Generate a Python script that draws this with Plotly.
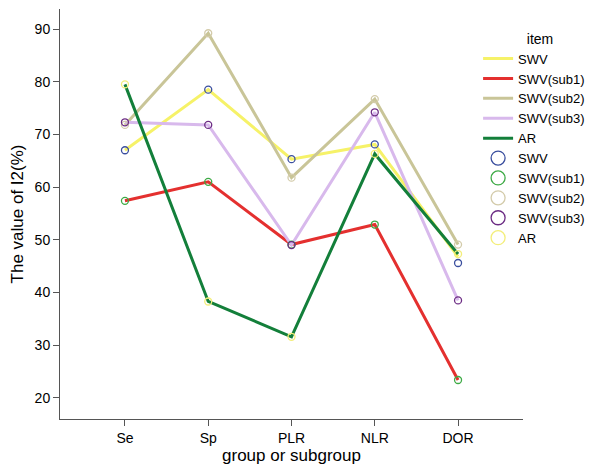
import plotly.graph_objects as go

categories = ["Se", "Sp", "PLR", "NLR", "DOR"]
series_names = ["SWV", "SWV(sub1)", "SWV(sub2)", "SWV(sub3)", "AR"]

# line values
swv_line = [67.0, 78.5, 65.3, 68.1, 46.8]
sub1_line = [57.4, 61.0, 49.1, 52.9, 23.4]
sub2_line = [71.8, 89.2, 61.8, 76.7, 49.1]
sub3_line = [72.3, 71.8, 49.0, 74.2, 38.5]
ar_line = [79.5, 38.3, 31.6, 66.3, 47.3]

# marker values
swv_pts = [67.0, 78.5, 65.3, 68.1, 45.6]
sub1_pts = [57.4, 61.0, 49.1, 52.9, 23.4]
sub2_pts = [71.8, 89.2, 61.8, 76.7, 49.1]
sub3_pts = [72.3, 71.8, 49.0, 74.2, 38.5]
ar_pts = [79.5, 38.3, 31.6, 66.3, 47.3]

line_vals = [swv_line, sub1_line, sub2_line, sub3_line, ar_line]
pt_vals = [swv_pts, sub1_pts, sub2_pts, sub3_pts, ar_pts]

line_colors = ["#F6F268", "#E4302F", "#C9C598", "#D8B9EC", "#137F3A"]
marker_colors = ["#3A4E9E", "#3DAA45", "#D3CBAA", "#6C2C84", "#F3EE7A"]

FONT = "Arial, Liberation Sans, sans-serif"
fig = go.Figure()

for name, vals, col in zip(series_names, line_vals, line_colors):
    fig.add_trace(go.Scatter(x=categories, y=vals, mode="lines", name=name,
                             line=dict(color=col, width=3), legendrank=1))

for name, vals, col in zip(series_names, pt_vals, marker_colors):
    fig.add_trace(go.Scatter(x=categories, y=vals, mode="markers", name=name,
                             showlegend=False,
                             marker=dict(symbol="circle-open", size=7,
                                         color=col, line=dict(width=1.3, color=col))))

for name, col in zip(series_names, marker_colors):
    fig.add_trace(go.Scatter(x=[None], y=[None], mode="markers", name=name,
                             legendrank=2,
                             marker=dict(symbol="circle-open", size=14,
                                         color=col, line=dict(width=1.3, color=col))))

fig.update_layout(
    width=592, height=465,
    margin=dict(l=52, r=77, t=1, b=54, autoexpand=False),
    plot_bgcolor="white", paper_bgcolor="white",
    font=dict(family=FONT, size=13, color="black"),
    showlegend=True,
    legend=dict(x=0.903, y=0.96, xanchor="left", yanchor="top",
                title=dict(text="            item", font=dict(size=14)),
                font=dict(size=13), tracegroupgap=0,
                bgcolor="rgba(255,255,255,0)", traceorder="normal"),
    xaxis=dict(type="category", range=[-0.78, 4.78], showline=True,
               linecolor="#555555", linewidth=1, ticks="outside", ticklen=6,
               tickcolor="#555555", showgrid=False, zeroline=False,
               tickfont=dict(size=14), automargin=False,
               title=dict(text="group or subgroup", font=dict(size=17), standoff=4)),
    yaxis=dict(range=[16, 93.8], showline=True, linecolor="#555555", linewidth=1,
               ticks="outside", ticklen=6, tickcolor="#555555", showgrid=False,
               zeroline=False, tickvals=[20, 30, 40, 50, 60, 70, 80, 90],
               tickfont=dict(size=14), automargin=False,
               title=dict(text="The value of I2(%)", font=dict(size=17), standoff=6)),
)

fig.write_html("out.html")
